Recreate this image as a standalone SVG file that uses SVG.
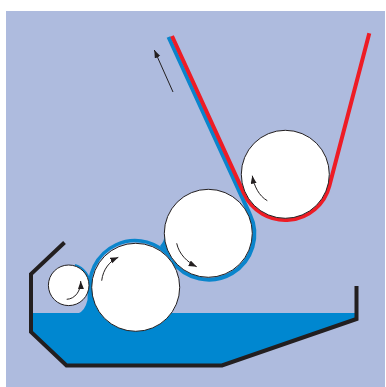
<svg xmlns="http://www.w3.org/2000/svg" width="386" height="387" viewBox="0 0 386 387">
<style>
.roller{fill:#fff;stroke:#231f20;stroke-width:1}
.belt{fill:none;stroke-linecap:butt}
.arrow{fill:none;stroke:#231f20;stroke-width:1;marker-end:url(#head)}
</style>
<defs>
<marker id="head" markerUnits="userSpaceOnUse" markerWidth="9" markerHeight="7" refX="8" refY="3" orient="auto">
<path d="M0,0 L8,3 L0,6 Z" fill="#231f20"/>
</marker>
</defs>
<rect x="6" y="11" width="379" height="376" fill="#aebbde"/>
<g id="bath">
<path d="M32,313 H356 V319 L222,365 H66 L31,332 Z" fill="#0087d0"/>
<path d="M78,313.500 Q85,311 87.500,300 L88,283 L94,278 L100,313.500 Z" fill="#0087d0"/>
</g>
<g id="connectors">
<path class="belt" stroke="#0a85cc" stroke-width="4" d="M168.500,37 L249.750,214.200 A45.500,45.500 0 0 1 171.700,260.400"/>
<path class="belt" stroke="#0a85cc" stroke-width="3.500" d="M172.300,259.800 A45.500,45.500 0 0 0 91,297"/>
<path class="belt" stroke="#0a85cc" stroke-width="2" d="M75,265 A21.300,21.300 0 0 1 90,285.300"/>
<path d="M165,234 Q164.500,241 160,246 L174,258 Z" fill="#0a85cc"/>
<path class="belt" stroke="#ee1c25" stroke-width="4" d="M172,36 L243.850,193.200 A45.500,45.500 0 0 0 329.400,185.700 L369.300,33.300"/>
</g>
<g id="frame"><path d="M64.500,242.500 L31,274 V332 L66.500,365.500 H222 L356.500,319 V286" fill="none" stroke="#231f20" stroke-width="4"/></g>
<g id="roller-1"><circle class="roller" cx="68.700" cy="285.300" r="20.300"/><path class="arrow" d="M66.700,299.300 C75,299 81,291 80.700,281"/></g>
<g id="roller-2"><circle class="roller" cx="135.700" cy="287.300" r="44"/><path class="arrow" d="M101.700,280.700 C103,269 110,261 118.300,257.300"/></g>
<g id="roller-3"><circle class="roller" cx="208.300" cy="233.300" r="44"/><path class="arrow" d="M176.700,243.300 C179,254 187,262 196.700,266.700"/></g>
<g id="roller-4"><circle class="roller" cx="285.300" cy="174.300" r="44"/><path class="arrow" d="M267.300,200.700 C259,196 254,186 252.300,175.700"/></g>
<g id="direction"><path class="arrow" d="M173,92 L154.300,50"/></g>
</svg>
